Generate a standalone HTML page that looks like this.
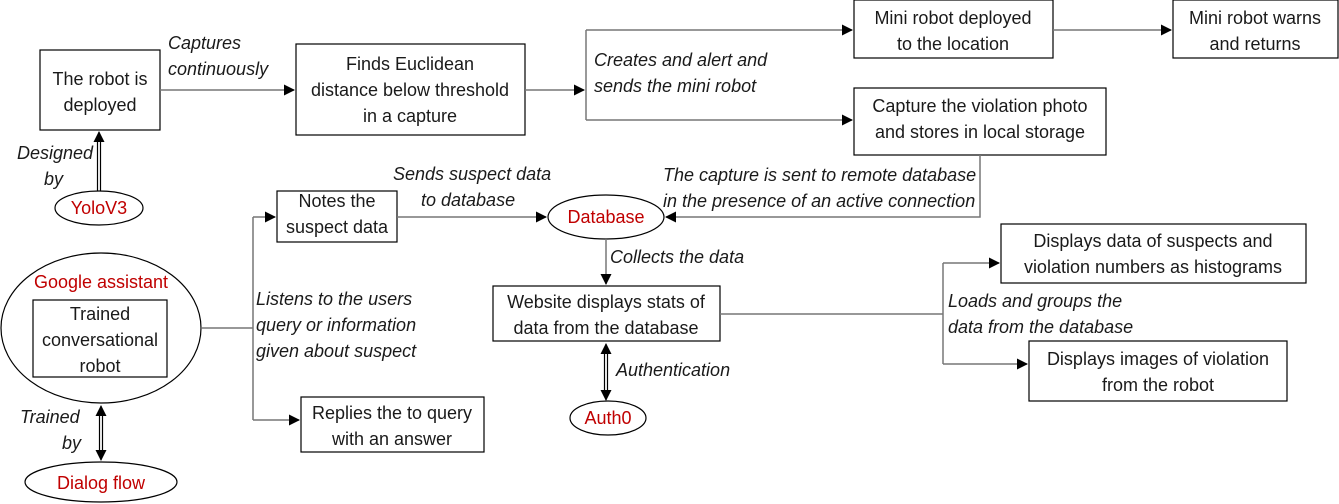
<!DOCTYPE html>
<html><head><meta charset="utf-8"><style>
body{margin:0;background:#fff}
svg{display:block}
text{font-family:"Liberation Sans","DejaVu Sans",sans-serif;font-size:18px;fill:#1a1a1a}
.i{font-style:italic}
.r{fill:#c00000}
.c{text-anchor:middle}
</style></head><body>
<svg width="1339" height="504" viewBox="0 0 1339 504" xmlns="http://www.w3.org/2000/svg">
<defs>
<marker id="a" markerWidth="11" markerHeight="11" refX="10" refY="5.5" orient="auto" markerUnits="userSpaceOnUse"><path d="M0,0 L11,5.5 L0,11 z" fill="#000"/></marker>
</defs>
<g fill="none" stroke="#000" stroke-width="1.2">
<rect x="40" y="50" width="120" height="80"/>
<rect x="296" y="44" width="229" height="91"/>
<rect x="854" y="0" width="199" height="58"/>
<rect x="1173" y="0" width="165" height="58"/>
<rect x="854" y="88" width="252" height="67"/>
<rect x="277" y="191" width="120" height="51"/>
<rect x="33" y="300" width="134" height="77"/>
<rect x="301" y="397" width="183" height="55"/>
<rect x="493" y="286" width="227" height="55"/>
<rect x="1001" y="224" width="305" height="59"/>
<rect x="1029" y="341" width="258" height="60"/>
<ellipse cx="99" cy="208" rx="44" ry="17"/>
<ellipse cx="606" cy="217" rx="58" ry="22"/>
<ellipse cx="101" cy="328" rx="100" ry="75"/>
<ellipse cx="101" cy="482" rx="76" ry="20"/>
<ellipse cx="608" cy="418" rx="38" ry="17"/>
</g>
<g fill="none" stroke="#777" stroke-width="1.5">
<path d="M160,90 H294" marker-end="url(#a)"/>
<path d="M525,90 H584" marker-end="url(#a)"/>
<path d="M586,30 V120"/>
<path d="M586,30 H852" marker-end="url(#a)"/>
<path d="M586,120 H852" marker-end="url(#a)"/>
<path d="M1053,30 H1171" marker-end="url(#a)"/>
<path d="M980,155 V217 H666" marker-end="url(#a)"/>
<path d="M397,217 H546" marker-end="url(#a)"/>
<path d="M202,328 H253"/>
<path d="M253,217 V420"/>
<path d="M253,217 H275" marker-end="url(#a)"/>
<path d="M253,420 H299" marker-end="url(#a)"/>
<path d="M606,239 V284" marker-end="url(#a)"/>
<path d="M720,314 H943"/>
<path d="M943,263 V364"/>
<path d="M943,263 H999" marker-end="url(#a)"/>
<path d="M943,364 H1027" marker-end="url(#a)"/>
</g>
<g stroke="#000" stroke-width="1.2" fill="none">
<path d="M97.5,191 V140 M100.5,191 V140"/>
<path d="M99,140 V132" marker-end="url(#a)"/>
<path d="M99.5,414 V452 M102.5,414 V452"/>
<path d="M101,414 V406" marker-end="url(#a)"/>
<path d="M101,452 V460" marker-end="url(#a)"/>
<path d="M604.5,352 V392 M607.5,352 V392"/>
<path d="M606,352 V344" marker-end="url(#a)"/>
<path d="M606,392 V400" marker-end="url(#a)"/>
</g>
<text class="c" x="100" y="85">The robot is</text>
<text class="c" x="100" y="111">deployed</text>
<text class="c" x="410" y="70">Finds Euclidean</text>
<text class="c" x="410" y="96">distance below threshold</text>
<text class="c" x="410" y="122">in a capture</text>
<text class="c" x="953" y="24">Mini robot deployed</text>
<text class="c" x="953" y="50">to the location</text>
<text class="c" x="1255" y="24">Mini robot warns</text>
<text class="c" x="1255" y="50">and returns</text>
<text class="c" x="980" y="112">Capture the violation photo</text>
<text class="c" x="980" y="138">and stores in local storage</text>
<text class="c" x="337" y="207">Notes the</text>
<text class="c" x="337" y="233">suspect data</text>
<text class="c" x="100" y="320">Trained</text>
<text class="c" x="100" y="346">conversational</text>
<text class="c" x="100" y="372">robot</text>
<text class="c" x="392" y="419">Replies the to query</text>
<text class="c" x="392" y="445">with an answer</text>
<text class="c" x="606" y="308">Website displays stats of</text>
<text class="c" x="606" y="334">data from the database</text>
<text class="c" x="1153" y="247">Displays data of suspects and</text>
<text class="c" x="1153" y="273">violation numbers as histograms</text>
<text class="c" x="1158" y="365">Displays images of violation</text>
<text class="c" x="1158" y="391">from the robot</text>
<text class="c r" x="99" y="214">YoloV3</text>
<text class="c r" x="606" y="223">Database</text>
<text class="c r" x="101" y="288">Google assistant</text>
<text class="c r" x="101" y="489">Dialog flow</text>
<text class="c r" x="608" y="424">Auth0</text>
<text class="i" x="168" y="49">Captures</text>
<text class="i" x="168" y="75">continuously</text>
<text class="i" x="594" y="66">Creates and alert and</text>
<text class="i" x="594" y="92">sends the mini robot</text>
<text class="i" x="17" y="159">Designed</text>
<text class="i" x="44" y="185">by</text>
<text class="i" x="393" y="180">Sends suspect data</text>
<text class="i" x="421" y="206">to database</text>
<text class="i" x="663" y="181">The capture is sent to remote database</text>
<text class="i" x="663" y="207">in the presence of an active connection</text>
<text class="i" x="256" y="305">Listens to the users</text>
<text class="i" x="256" y="331">query or information</text>
<text class="i" x="256" y="357">given about suspect</text>
<text class="i" x="610" y="263">Collects the data</text>
<text class="i" x="616" y="376">Authentication</text>
<text class="i" x="948" y="307">Loads and groups the</text>
<text class="i" x="948" y="333">data from the database</text>
<text class="i" x="20" y="423">Trained</text>
<text class="i" x="62" y="449">by</text>
</svg>
</body></html>
